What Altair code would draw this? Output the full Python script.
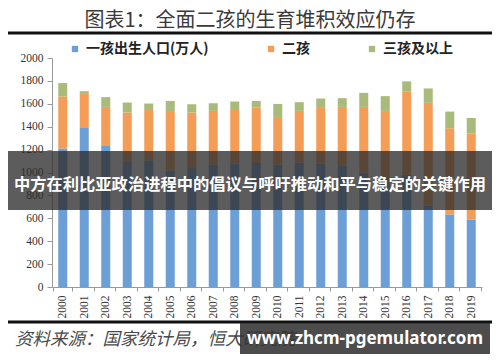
import altair as alt
import pandas as pd

years = [str(y) for y in range(2000, 2020)]
first_child = [1210, 1395, 1238, 1098, 1105, 1018, 1045, 1070, 1078, 1082,
               1068, 1088, 1076, 1058, 1000, 960, 980, 712, 634, 590]
second_child = [454, 298, 335, 426, 441, 511, 479, 468, 468, 485,
                417, 450, 488, 515, 573, 578, 725, 896, 752, 750]
third_plus = [117, 17, 85, 87, 56, 96, 72, 67, 74, 58,
              114, 76, 82, 76, 123, 129, 91, 126, 146, 136]
series_names = ["一孩出生人口(万人)", "二孩", "三孩及以上"]
series_colors = ["#6c9fd6", "#f39d56", "#a9bb7a"]
y_ticks = list(range(0, 2001, 200))

title_text = "图表1：全面二孩的生育堆积效应仍存"
banner_text = "中方在利比亚政治进程中的倡议与呼吁推动和平与稳定的关键作用"
source_text = "资料来源：国家统计局，恒大研究院"
watermark_text = "www.zhcm-pgemulator.com"

rows = []
for i, y in enumerate(years):
    for k, (name, vals) in enumerate(zip(series_names, [first_child, second_child, third_plus])):
        rows.append({"year": y, "series": name, "value": vals[i], "order": k})
df = pd.DataFrame(rows)

W, H = 430, 229

bars = alt.Chart(df).mark_bar(size=9).encode(
    x=alt.X("year:O", sort=years, title=None,
            axis=alt.Axis(labelAngle=-90, labelFont="Liberation Serif", labelFontSize=11.5,
                          labelColor="#333", domainColor="#999", tickColor="#999",
                          tickSize=4, tickBand="extent", labelPadding=4)),
    y=alt.Y("value:Q", stack="zero", title=None,
            scale=alt.Scale(domain=[0, 2000], nice=False),
            axis=alt.Axis(values=y_ticks, format="d", grid=False, labelFont="Liberation Serif",
                          labelFontSize=11.5, labelColor="#333", domainColor="#999",
                          tickColor="#999", tickSize=5, labelPadding=4)),
    color=alt.Color("series:N", sort=series_names,
                    scale=alt.Scale(domain=series_names, range=series_colors),
                    legend=alt.Legend(orient="none", legendX=16, legendY=-16,
                                      direction="horizontal", title=None,
                                      symbolType="square", symbolSize=40,
                                      symbolStrokeWidth=0,
                                      labelFont="Noto Sans CJK SC", labelFontSize=14,
                                      labelFontWeight="bold", labelColor="#222",
                                      columnPadding=55, labelOffset=4)),
    order=alt.Order("order:Q"),
)

one = pd.DataFrame({"a": [0]})
base = alt.Chart(one)

title = base.mark_text(font="Noto Sans CJK SC", fontSize=20, color="#3a3a3a",
                       align="center", baseline="middle").encode(
    x=alt.value(198), y=alt.value(-37), text=alt.value(title_text))
top_line = base.mark_rule(color="#111", strokeWidth=3).encode(
    x=alt.value(-49), x2=alt.value(443), y=alt.value(-25))
bottom_line = base.mark_rule(color="#111", strokeWidth=3).encode(
    x=alt.value(-49), x2=alt.value(441), y=alt.value(264))
source = base.mark_text(font="Noto Sans CJK SC", fontSize=17.5, fontStyle="italic",
                        color="#4a4a4a", align="left", baseline="middle").encode(
    x=alt.value(-37), y=alt.value(282), text=alt.value(source_text))
banner = base.mark_rect(color="#2e2e2e", opacity=0.78).encode(
    x=alt.value(-47), x2=alt.value(443), y=alt.value(93), y2=alt.value(152))
banner_label = base.mark_text(font="Noto Sans CJK SC", fontSize=16.3, fontWeight="bold",
                              color="white", align="center", baseline="middle").encode(
    x=alt.value(198), y=alt.value(127), text=alt.value(banner_text))
wm_box = base.mark_rect(color="#333333", opacity=0.88).encode(
    x=alt.value(188), x2=alt.value(438), y=alt.value(265), y2=alt.value(296))
wm_label = base.mark_text(font="Noto Sans", fontSize=17, fontWeight="bold",
                          color="white", align="center", baseline="middle").encode(
    x=alt.value(313), y=alt.value(281), text=alt.value(watermark_text))

chart = alt.layer(bars, title, top_line, bottom_line, source, banner, banner_label,
                  wm_box, wm_label).properties(
    width=W, height=H,
    padding={"left": 44, "top": 50, "right": 10, "bottom": 67},
    autosize=alt.AutoSizeParams(type="none"),
    background="white",
).configure_view(stroke=None)

chart.save("out.html", embed_options={"renderer": "svg", "actions": False})
